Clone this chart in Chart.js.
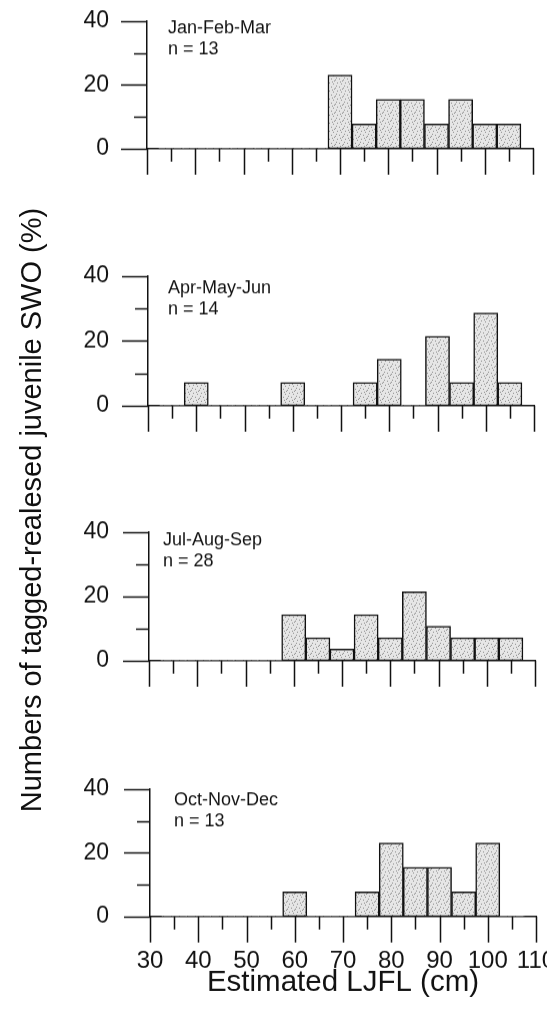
<!DOCTYPE html>
<html>
<head>
<meta charset="utf-8">
<script src="https://cdn.jsdelivr.net/npm/chart.js@4.4.0/dist/chart.umd.min.js"></script>
<style>
  html, body { margin: 0; padding: 0; background: #fff; overflow: hidden; }
  body { width: 547px; height: 1014px; position: relative; }
  canvas { position: absolute; left: 0; }
  #ytitle {
    position: absolute; width: 700px; height: 34px; line-height: 34px;
    text-align: center; white-space: nowrap;
    font: 29px "Liberation Sans", Arial, sans-serif; color: #111;
    transform: rotate(-90deg);
  }
</style>
</head>
<body>
<canvas id="p0"></canvas>
<canvas id="p1"></canvas>
<canvas id="p2"></canvas>
<canvas id="p3"></canvas>
<div id="ytitle">Numbers of tagged-realesed juvenile SWO (%)</div>
<script>
// length classes (cm), 5 cm bins
const binCentres = [35, 40, 45, 50, 55, 60, 65, 70, 75, 80, 85, 90, 95, 100, 105];

// percentage of tagged fish per bin, one array per quarter
const janFebMar = [0, 0, 0, 0, 0, 0, 0, 23.1, 7.7, 15.4, 15.4, 7.7, 15.4, 7.7, 7.7];
const aprMayJun = [0, 7.1, 0, 0, 0, 7.1, 0, 0, 7.1, 14.3, 0, 21.4, 7.1, 28.6, 7.1];
const julAugSep = [0, 0, 0, 0, 0, 14.3, 7.1, 3.6, 14.3, 7.1, 21.4, 10.7, 7.1, 7.1, 7.1];
const octNovDec = [0, 0, 0, 0, 0, 7.7, 0, 0, 7.7, 23.1, 15.4, 15.4, 7.7, 23.1, 0];

const quarters = ['Jan-Feb-Mar', 'Apr-May-Jun', 'Jul-Aug-Sep', 'Oct-Nov-Dec'];
const sampleSizes = [13, 14, 28, 13];
const series = [janFebMar, aprMayJun, julAugSep, octNovDec];

const xTickLabels = [30, 40, 50, 60, 70, 80, 90, 100, 110];
const yTickLabels = [0, 20, 40];

// where each panel sits on the page (top = 40 line, bottom = 0 line, left = y axis)
const panels = [
  { top: 21, bottom: 148, left: 147, tx: 21, ty: 12 },
  { top: 276, bottom: 405, left: 148, tx: 20, ty: 17 },
  { top: 532, bottom: 660, left: 149, tx: 14, ty: 13 },
  { top: 789, bottom: 916, left: 150, tx: 24, ty: 16 }
];
const CANVAS_W = 600;
const PLOT_W = 386;
const FONT = '"Liberation Sans", Arial, sans-serif';

function stipple() {
  const c = document.createElement('canvas');
  c.width = c.height = 8;
  const g = c.getContext('2d');
  g.fillStyle = '#e6e6e6';
  g.fillRect(0, 0, 8, 8);
  g.fillStyle = '#8a8a8a';
  [[1, 1], [5, 2], [3, 5], [7, 6], [0, 4], [6, 7], [4, 0]].forEach(([x, y]) => g.fillRect(x, y, 1, 1));
  return g.createPattern(c, 'repeat');
}

// minor/major tick marks and the quarter label
const panelDecor = {
  id: 'panelDecor',
  afterDraw(chart, args, opts) {
    const { ctx, chartArea: a } = chart;
    const xs = chart.scales.x, ys = chart.scales.y;
    ctx.save();
    ctx.strokeStyle = '#111';
    ctx.lineWidth = 1.5;
    ctx.beginPath();
    for (let v = 30; v <= 110; v += 5) {
      const px = Math.round(xs.getPixelForValue(v)) + 0.5;
      ctx.moveTo(px, a.bottom);
      ctx.lineTo(px, a.bottom + (v % 10 === 0 ? 26 : 13));
    }
    for (let v = 0; v <= 40; v += 10) {
      const py = Math.round(ys.getPixelForValue(v)) + 0.5;
      ctx.moveTo(a.left, py);
      ctx.lineTo(a.left - (v % 20 === 0 ? 26 : 13), py);
    }
    ctx.stroke();
    ctx.fillStyle = '#111';
    ctx.font = '18px ' + FONT;
    ctx.textBaseline = 'alphabetic';
    ctx.fillText(opts.title, a.left + opts.tx, a.top + opts.ty);
    ctx.fillText('n = ' + opts.n, a.left + opts.tx, a.top + opts.ty + 21);
    ctx.restore();
  }
};

const fill = stipple();

panels.forEach((p, i) => {
  const last = i === panels.length - 1;
  const canvas = document.getElementById('p' + i);
  const plotH = p.bottom - p.top;
  const xHeight = last ? 1014 - p.bottom : 32;
  canvas.width = CANVAS_W;
  canvas.height = plotH + 200;

  const chart = new Chart(canvas, {
    type: 'bar',
    data: {
      datasets: [{
        data: binCentres.map((b, k) => ({ x: b, y: series[i][k] })),
        backgroundColor: fill,
        borderColor: '#111',
        borderWidth: c => (c.raw && c.raw.y > 0 ? 1.5 : 0),
        borderSkipped: false,
        barPercentage: 1,
        categoryPercentage: 1
      }]
    },
    options: {
      responsive: false,
      maintainAspectRatio: false,
      animation: false,
      layout: { padding: { top: 0, left: 0, bottom: 0, right: CANVAS_W - p.left - PLOT_W } },
      plugins: {
        legend: { display: false },
        tooltip: { enabled: false },
        panelDecor: { title: quarters[i], n: sampleSizes[i], tx: p.tx, ty: p.ty }
      },
      scales: {
        x: {
          type: 'linear',
          min: 30, max: 110,
          offset: false,
          grid: { display: false, drawTicks: false },
          border: { display: true, color: '#111', width: 1.5 },
          afterFit: s => { s.height = xHeight; },
          ticks: {
            display: last,
            stepSize: 10,
            autoSkip: false,
            maxRotation: 0,
            padding: 30,
            color: '#111',
            font: { family: FONT, size: 24 },
            callback: v => (xTickLabels.includes(v) ? v : '')
          },
          title: {
            display: last,
            text: 'Estimated LJFL (cm)',
            color: '#111',
            font: { family: FONT, size: 29.5 },
            padding: { top: 0, bottom: 14 }
          }
        },
        y: {
          min: 0, max: 40,
          grid: { display: false, drawTicks: false },
          border: { display: true, color: '#111', width: 1.5 },
          afterFit: s => { s.width = p.left; },
          ticks: {
            stepSize: 10,
            padding: p.left - 109,
            color: '#111',
            font: { family: FONT, size: 23 },
            callback: v => (yTickLabels.includes(v) ? v : '')
          }
        }
      }
    },
    plugins: [panelDecor]
  });

  // tick padding and label overflow add space round the plot; size the canvas so the plot lands on the panel
  const a = chart.chartArea;
  const extraTop = a.top;
  const extraBottom = chart.height - a.bottom;
  canvas.style.top = (p.top - extraTop) + 'px';
  chart.resize(CANVAS_W, extraTop + plotH + extraBottom);
});

// rotated y title, baseline near x = 42
const yt = document.getElementById('ytitle');
yt.style.left = (32 - 350) + 'px';
yt.style.top = (510 - 17) + 'px';
</script>
</body>
</html>
